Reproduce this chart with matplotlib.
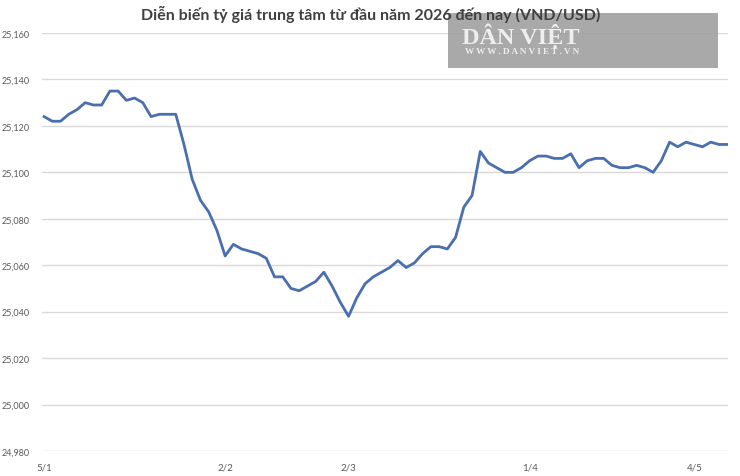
import matplotlib
matplotlib.use("Agg")
import matplotlib.pyplot as plt
from matplotlib.patches import Rectangle

# ---- data ----
rates = [25124, 25122, 25122, 25125, 25127, 25130, 25129, 25129, 25135, 25135,
         25131, 25132, 25130, 25124, 25125, 25125, 25125, 25112, 25097, 25088,
         25083, 25075, 25064, 25069, 25067, 25066, 25065, 25063, 25055, 25055,
         25050, 25049, 25051, 25053, 25057, 25051, 25044, 25038, 25046, 25052,
         25055, 25057, 25059, 25062, 25059, 25061, 25065, 25068, 25068, 25067,
         25072, 25085, 25090, 25109, 25104, 25102, 25100, 25100, 25102, 25105,
         25107, 25107, 25106, 25106, 25108, 25102, 25105, 25106, 25106, 25103,
         25102, 25102, 25103, 25102, 25100, 25105, 25113, 25111, 25113, 25112,
         25111, 25113, 25112, 25112]
label_positions = [0, 22, 37, 59, 79]
label_texts = ["5/1", "2/2", "2/3", "1/4", "4/5"]
y_ticks = [24980, 25000, 25020, 25040, 25060, 25080, 25100, 25120, 25140, 25160]
title = "Diễn biến tỷ giá trung tâm từ đầu năm 2026 đến nay (VND/USD)"

plt.rcParams['font.family'] = ['Lato', 'DejaVu Sans']

fig = plt.figure(figsize=(7.4, 4.77), dpi=100)
ax = fig.add_axes([42/740, 1-452/477, 686/740, (452-34)/477])

x = list(range(len(rates)))
ax.plot(x, rates, color='#4a6fb0', linewidth=2.0, solid_joinstyle='round', zorder=3)

n = len(rates)
ax.set_xlim(-0.25, n - 1 + 0.1)
ax.set_ylim(24980, 25160)
ax.set_yticks(y_ticks)
ax.set_yticklabels([f"{v:,}" for v in y_ticks])
ax.set_xticks(label_positions)
ax.set_xticklabels(label_texts)
ax.tick_params(axis='both', length=0, labelsize=7, labelcolor='#595959')
ax.tick_params(axis='y', pad=9)
ax.tick_params(axis='x', pad=8)
for s in ax.spines.values():
    s.set_visible(False)
ax.grid(axis='y', color='#d9d9d9', linewidth=1.0, zorder=0)
ax.set_axisbelow(True)
for lbl in ax.get_yticklabels():
    lbl.set_fontsize(6.5)

# watermark box
fig.patches.append(Rectangle((448/740, 1-69/477), 270/740, 55/477,
                             transform=fig.transFigure, facecolor='#9a9a9a',
                             alpha=0.85, edgecolor='none', zorder=5))
fig.text(521/740, 1-36/477, "DÂN VIỆT", family=['Liberation Serif', 'DejaVu Serif'],
         fontweight='bold', fontsize=17.5, color='#eeeeee', ha='center', va='center', zorder=6)
fig.text(522/740, 1-52/477, "W W W . D A N V I E T . V N", family=['Liberation Serif', 'DejaVu Serif'],
         fontweight='bold', fontsize=6.6, color='#eeeeee', ha='center', va='center', zorder=6)

fig.text(371/740, 1-14/477, title, ha='center', va='center', fontsize=11.5,
         fontweight='bold', color='#404040', zorder=7)

fig.savefig("out.png", dpi=100)
